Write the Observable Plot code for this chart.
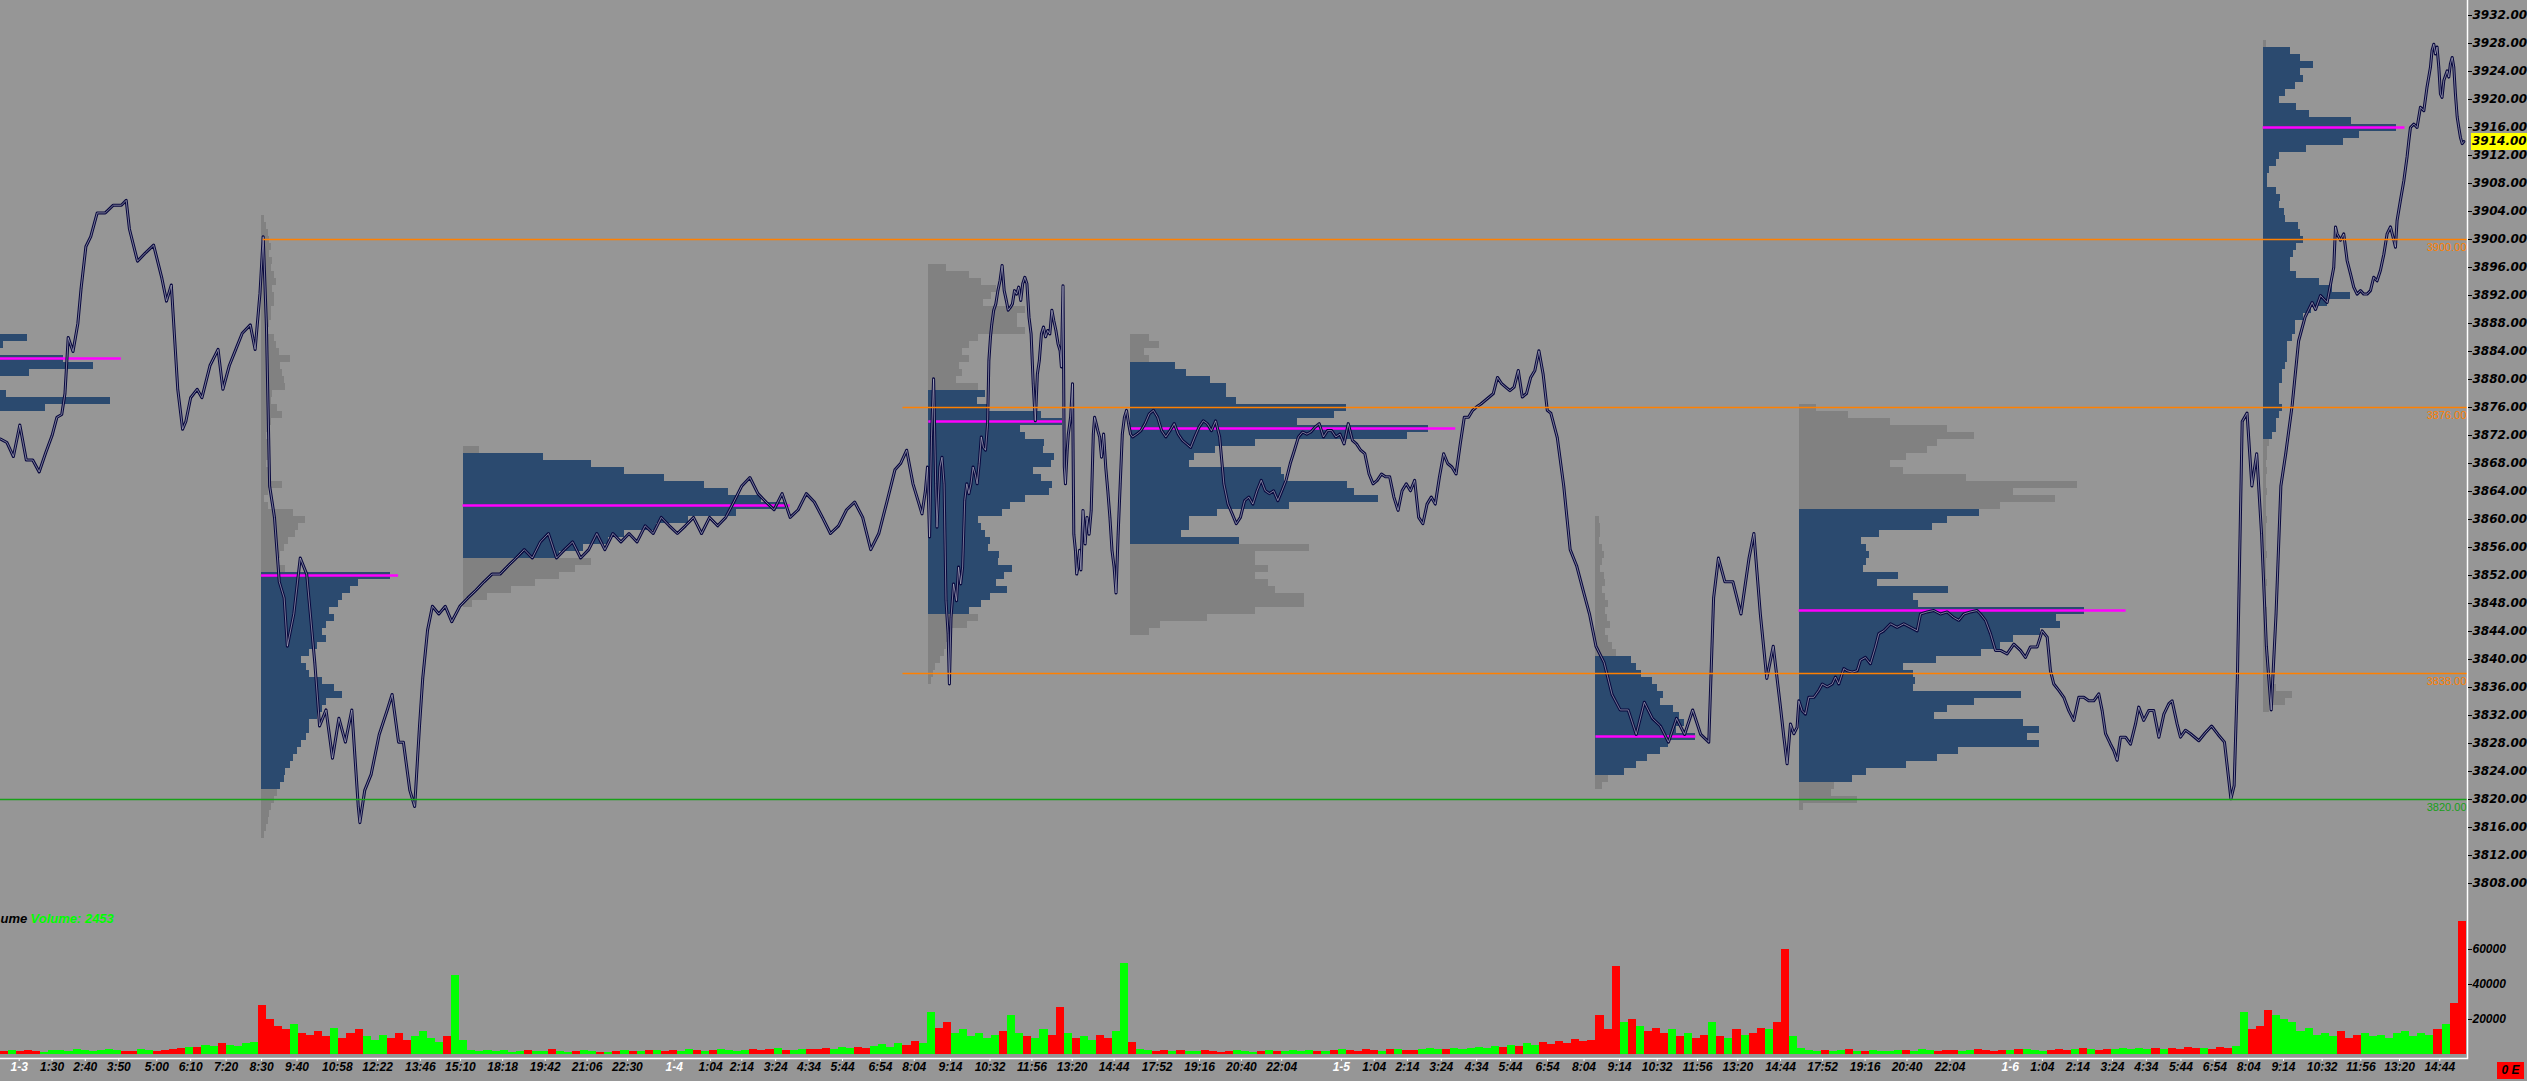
<!DOCTYPE html>
<html>
<head>
<meta charset="utf-8">
<script src="https://cdn.jsdelivr.net/npm/d3@7"></script>
<script src="https://cdn.jsdelivr.net/npm/@observablehq/plot@0.6"></script>
<style>
  html, body { margin:0; padding:0; background:#969696; overflow:hidden; }
  #chart { position:relative; width:2527px; height:1081px; background:#969696; overflow:hidden; }
  #chart svg { position:absolute; left:0; overflow:visible; max-width:none; }
  #price g[aria-label="y-axis tick label"] { font-family:'DejaVu Sans', Verdana, sans-serif; font-size:12px; font-weight:bold; font-style:italic; }
  #volume g[aria-label="y-axis tick label"] { font-family:'Liberation Sans', Arial, sans-serif; font-size:12px; font-weight:bold; font-style:italic; }
  #flag { position:absolute; left:2497px; top:1062px; width:27px; height:17px; background:#ff0000;
          color:#000; font:italic bold 12px "Liberation Sans", Arial, sans-serif; text-align:center; line-height:17px; }
  #lastTag { position:absolute; left:2471px; height:17px; padding:0 1px; background:#ffff00; color:#000;
          font:italic bold 12px 'DejaVu Sans', Verdana, sans-serif; line-height:17px; }
</style>
</head>
<body>
<div id="chart"></div>
<script>
// ---------------- DATA ----------------
// price samples [bar, price]
const price_1_3 = [[0,3871.5],[4,3871],[8,3869],[12,3873.5],[16,3868.5],[20,3868.5],[24,3866.8],[28,3869.5],[32,3872],[35,3874.6],[38,3875],[40,3878],[42,3886],[45,3884],[48,3888],[50,3893],[53,3899],[56,3900.4],[60,3903.8],[65,3903.8],[70,3904.9],[75,3904.9],[78,3905.6],[80,3901.5],[85,3896.9],[90,3898.1],[95,3899.2],[100,3894.6],[103,3891.2],[106,3893.5],[110,3878.6],[113,3872.9],[115,3874],[118,3877.4],[122,3878.6],[125,3877.4],[130,3882],[135,3884.3],[138,3878.6],[142,3882],[146,3884.3],[150,3886.6],[155,3887.8],[158,3884.3],[161,3892.3],[163,3900.4],[165,3887.8],[167,3864.8],[170,3860.3],[173,3851.1],[176,3848.8],[178,3841.9],[182,3846.5],[186,3854.5],[190,3852.2],[195,3839.6],[198,3830.5],[202,3832.8],[206,3825.9],[210,3831.6],[214,3828.2],[218,3832.8],[222,3819],[223,3816.7],[226,3821.3],[230,3823.6],[235,3829.3],[240,3832.8],[243,3835],[247,3828.2],[250,3828.2],[254,3821.3],[257,3819],[260,3830.5],[262,3837.3],[265,3844.2],[268,3847.6],[272,3846.5],[276,3847.6],[280,3845.4],[285,3847.6]];
const price_1_4_eth = [[290,3848.8],[295,3849.9],[300,3851.1],[305,3852.2],[310,3852.2],[315,3853.4],[320,3854.5],[325,3855.7],[330,3854.5],[335,3856.8],[340,3858],[345,3854.5],[350,3855.7],[355,3856.8],[360,3854.5],[365,3855.7],[370,3858],[375,3855.7],[380,3858],[385,3856.8],[390,3858],[395,3856.8],[400,3859.1],[405,3858],[410,3860.3],[415,3859.1],[420,3858],[425,3859.1],[430,3860.3],[435,3858],[440,3860.3],[445,3859.1],[450,3860.3],[455,3862.5],[460,3864.8],[465,3866],[470,3863.7],[475,3862.5],[480,3861.4],[485,3863.7],[490,3860.3],[495,3861.4],[500,3863.7],[505,3862.5],[510,3860.3],[515,3858],[520,3859.1],[525,3861.4],[530,3862.5],[535,3860.3],[540,3855.7],[545,3858],[550,3862.5],[555,3867.1]];
const price_1_4_rth = [[558.5,3868],[562.3,3869.9],[566.2,3865.1],[570,3862.2],[571.8,3860.8],[573.9,3864.1],[575.2,3867.5],[576.5,3857.5],[577.7,3871.8],[579,3880.1],[580.3,3865.1],[581.1,3858.9],[582.9,3867.5],[584.2,3868.9],[585.5,3865.1],[586.7,3848.4],[588,3843.7],[588.8,3836.5],[589.8,3846],[591.4,3850.8],[593.2,3848.4],[594.5,3853.2],[595.8,3850.8],[597,3853.2],[598.3,3862.7],[599.6,3865.1],[600.9,3863.7],[602.2,3865.1],[603.5,3867.5],[604.8,3866.5],[606,3865.1],[607.3,3868],[608.6,3871.8],[609.9,3870.3],[611.2,3869.9],[612.5,3873.7],[613.3,3882.7],[614.3,3886.1],[615.1,3887.9],[616.3,3889.9],[617.6,3890.8],[618.9,3892.7],[620.2,3894.1],[621.5,3896.3],[622.8,3892.7],[624.1,3891.3],[625.3,3889.9],[626.6,3890.3],[627.9,3890.8],[629.2,3892.7],[630.5,3892.2],[631.8,3893.2],[633.1,3891.3],[634.3,3893.7],[635.6,3894.6],[636.9,3893.7],[638.2,3888.9],[639.5,3886.5],[640.8,3879.4],[642.1,3874.1],[643.4,3880.8],[644.6,3882.7],[645.9,3886.5],[647.2,3887.5],[648.5,3886.1],[649.8,3887],[651.1,3886.5],[652.4,3889.9],[653.6,3888.4],[654.9,3887],[656.2,3885.1],[657.5,3884.1],[658.3,3881.8],[659.3,3893.4],[660.1,3867.5],[660.8,3865.1],[661.9,3869.9],[662.6,3872.2],[664,3874.6],[665.2,3879.4],[666,3857.9],[667,3855.6],[667.8,3852.2],[668.6,3853.2],[669.6,3855.6],[670.4,3852.8],[671.7,3861.3],[673,3856.5],[674.2,3860.3],[675.5,3857.9],[676.8,3861.3],[678.1,3872.2],[678.9,3874.6],[679.9,3873.7],[680.9,3872.7],[682,3871.8],[683.2,3868.9],[684.5,3872.2],[685.8,3867.5],[687.1,3864.1],[688.4,3860.3],[689.7,3855.6],[691,3853.2],[692.2,3849.5],[693.5,3857.9],[694.8,3865.1],[696.1,3872.2],[697.4,3874.6],[698.7,3875.6],[700,3873.7],[701.2,3872.2],[702.5,3871.8]];
const price_1_5_eth = [[705.1,3872.2],[707.7,3872.7],[710.2,3873.7],[712.8,3875.1],[715.4,3875.6],[718,3874.6],[720.5,3872.7],[723.1,3871.8],[725.7,3872.7],[728.3,3873.7],[730.8,3872.2],[733.4,3871.3],[736,3870.8],[738.5,3870.3],[741.1,3871.8],[743.7,3873.2],[746.3,3874.1],[748.8,3873.7],[751.4,3872.7],[754,3874.1],[756.5,3871.8],[759.1,3865.1],[761.7,3862.2],[764.3,3860.8],[766.8,3859.4],[769.4,3860.3],[772,3862.7],[774.6,3863.2],[777.1,3862.2],[779.7,3864.1],[782.3,3865.6],[784.8,3864.1],[787.4,3863.7],[790,3864.1],[792.6,3862.7],[795.1,3864.1],[797.7,3865.6],[800.3,3868],[802.9,3869.9],[805.4,3871.8],[808,3872.5],[810.6,3872.2],[813.1,3872.5],[815.7,3873.2],[818.3,3873.7],[820.9,3871.8],[823.4,3872.7],[826,3872.7],[828.6,3871.8],[831.2,3872.2],[833.7,3870.8],[836.3,3873.7],[838.9,3871.3],[841.4,3870.8],[844,3869.9],[846.6,3869.4],[849.2,3866.5],[851.7,3865.1],[854.3,3865.6],[856.9,3866.5],[859.4,3866.1],[862,3866.1],[864.6,3863.2],[867.2,3861.3],[869.7,3864.1],[872.3,3865.1],[874.9,3864.1],[877.5,3865.6],[880,3860.3],[882.6,3859.4],[885.2,3862.2],[887.8,3863.2],[890.3,3862.2],[892.9,3866.1],[895.5,3869.4],[898,3868],[900.6,3867.5],[903.2,3866.5],[905.8,3870.8],[908.3,3874.6],[910.9,3874.6],[913.5,3875.6],[916,3876.1],[918.6,3876.5],[921.2,3877],[923.8,3877.5],[926.3,3878],[928.9,3880.3],[931.5,3879.4],[934,3878.9],[936.6,3878.4],[939.2,3878.9],[941.8,3881.3],[944.3,3877.5],[946.9,3878],[949.5,3880.3],[952.1,3881.3],[954.6,3884.1],[957.2,3880.8],[959.8,3875.6],[962,3875.2],[966,3871.7],[970,3864.8],[974,3855.7],[978,3853.4],[982,3849.9],[986,3846.5]];
const price_1_5_rth = [[990,3841.9],[995,3839.6],[1000,3835],[1005,3832.8],[1010,3832.8],[1015,3829.3],[1020,3833.9],[1025,3831.6],[1030,3830.5],[1035,3828.2],[1040,3831.6],[1045,3829.3],[1050,3832.8],[1055,3829.3],[1060,3828.2],[1063,3848.8],[1066,3854.5],[1070,3851.1],[1075,3851.1],[1080,3846.5],[1085,3854.5],[1088,3858],[1092,3846.5],[1096,3837.3],[1100,3841.9],[1104.5,3833.2],[1106.6,3828.9],[1108.6,3825.1],[1110.7,3830.8],[1112.8,3829.4],[1114.8,3830.3]];
const price_1_6_eth = [[1115.9,3834.1],[1117.9,3832.7],[1120,3832.2],[1122.1,3834.6],[1125.2,3834.6],[1128.3,3835.6],[1130.4,3836.5],[1133.5,3836.1],[1136.6,3836.5],[1138.6,3837.5],[1140.7,3836.5],[1143.8,3838.7],[1145.9,3838.4],[1149,3838.2],[1152.1,3838.4],[1154.1,3839.9],[1157.2,3840.3],[1160.3,3839.4],[1163.4,3841.8],[1165.5,3843.7],[1168.6,3844.1],[1172.8,3845.1],[1176.9,3844.6],[1181,3845.1],[1185.2,3844.6],[1189.3,3844.1],[1191.4,3846.5],[1195.5,3846.8],[1199.6,3847],[1203.8,3846.5],[1207.9,3846.8],[1212,3846],[1215.2,3845.6],[1218.3,3846.5],[1222.4,3846.8],[1226.5,3847],[1228.6,3846.5],[1231.7,3845.6],[1234.8,3843.7],[1237.9,3841.3],[1241,3841.3],[1245.1,3840.8],[1249.3,3842.2],[1253.4,3841.3],[1256.5,3840.3],[1259.6,3841.8],[1263.8,3841.8],[1266.9,3844.1],[1270,3843.2],[1272,3838.4],[1274.1,3836.5],[1277.2,3835.6],[1280.3,3834.6],[1283.4,3832.7],[1286.5,3831.3],[1289.6,3834.6],[1292.7,3834.6],[1295.8,3834.1],[1298.9,3834.1],[1302,3835.1],[1304.1,3832.7],[1306.2,3829.4],[1309.3,3827.9],[1311.3,3827],[1313.4,3825.6],[1315.5,3828.9],[1318.6,3828.9],[1321.7,3827.9],[1324.8,3830.8],[1326.8,3833.2],[1329.9,3831.3],[1333,3832.7],[1336.1,3832.7],[1339.3,3828.9],[1342.4,3832.2],[1345.5,3833.7],[1347.5,3834.1],[1350.6,3830.8],[1352.7,3828.9],[1355.8,3829.9],[1358.9,3829.4],[1364.1,3828.4],[1368,3829.5],[1372,3830.5],[1376,3829.3],[1380,3828.2],[1384,3820.1],[1386,3822]];
const price_1_6_rth = [[1388,3837.3],[1391,3874],[1394,3875.2],[1397,3864.8],[1400,3869.4],[1403,3858],[1406,3841.9],[1409,3832.8],[1412,3846.5],[1415,3864.8],[1418,3869.4],[1422,3876.3],[1426,3885.5],[1430,3888.9],[1434.4,3891],[1436.5,3890],[1439.6,3892],[1443.7,3891],[1447.8,3896],[1448.9,3901.8],[1449.9,3900.8],[1452,3899.9],[1454,3900.8],[1456.1,3897],[1458.2,3895.1],[1460.2,3893.2],[1462.3,3892.2],[1464.4,3892.7],[1466.4,3892.2],[1468.5,3892.2],[1470.6,3892.7],[1472.6,3894.6],[1474.7,3894.1],[1476.8,3895.6],[1478.9,3897.9],[1480.9,3900.8],[1483,3901.8],[1485.1,3899.9],[1486.1,3898.9],[1487.1,3902.7],[1489.2,3905.6],[1491.3,3908.4],[1493.3,3911.8],[1494.4,3914.1],[1495.4,3916],[1497.5,3916.5],[1499.5,3916],[1501.6,3918.9],[1503.7,3918.4],[1505.7,3921.8],[1507.8,3924.6],[1508.8,3927],[1509.9,3927.9],[1510.9,3926.5],[1511.9,3927.5],[1513,3924.6],[1514,3920.8],[1515,3920.3],[1516.1,3922.7],[1518.2,3924.1],[1519.2,3923.2],[1520.2,3925.1],[1521.3,3926],[1522.3,3924.6],[1523.3,3920.8],[1524.4,3917.5],[1525.4,3916],[1526.4,3914.6],[1527.5,3913.7],[1528.5,3914]];
const lastPrice = 3914;

// price axis ticks
const priceTicks = [3808,3812,3816,3820,3824,3828,3832,3836,3840,3844,3848,3852,3856,3860,3864,3868,3872,3876,3880,3884,3888,3892,3896,3900,3904,3908,3912,3916,3920,3924,3928,3932];

// horizontal levels
const levelPrices = [3900, 3876, 3838, 3820];
const levelFromBar = [163, 560, 560, 0];
const levelColors = ["#ff8000", "#ff8000", "#ff8000", "#18a018"];

// volume profiles: volume at price (1 pt rows, listed from top price downward)
const profileStartBar = [0, 162, 287, 576, 701, 990, 1116, 1404];
const profileTopPrice = [3886, 3903, 3870, 3896, 3886, 3860, 3876, 3928];
const profileVAHigh   = [3886, 3852, 3869, 3878, 3882, 3840, 3861, 3927];
const profileVALow    = [3876, 3822, 3855, 3847, 3857, 3824, 3823, 3872];
const profilePOC      = [3883, 3852, 3862, 3874, 3873, 3829, 3847, 3916];
const profilePOCEnd   = [75, 247, 490, 659, 903, 1052, 1319, 1492];
const prof_1_2_eth = [17,2,0,39,58,18,0,0,4,68,28];
const prof_1_3_rth = [2,3,4,5,6,5,7,6,8,9,7,8,8,6,6,5,4,8,9,11,18,12,13,14,15,7,6,10,13,6,4,3,4,5,4,3,4,5,13,4,2,4,20,27,23,21,17,14,12,10,15,
  80,60,55,50,48,42,45,40,38,40,35,30,25,28,30,38,45,50,40,38,35,30,30,28,25,22,20,18,15,14,12,10,8,6,5,4,3,2];
const prof_1_3_eth = [10,50,80,100,125,150,165,185,200,170,140,120,100,90,75,60,80,70,60,45,30,15,6];
const prof_1_4_rth = [11,25,33,42,39,34,60,55,55,60,31,25,21,25,19,21,17,31,
  35,30,37,70,83,57,60,72,71,78,76,65,70,77,75,60,51,46,31,33,35,38,37,44,43,52,47,42,49,38,33,25,
  31,24,13,12,11,10,7,4,3,2];
const prof_1_4_eth = [12,18,9,12,28,35,50,60,60,66,134,127,104,185,172,78,53,40,37,94,96,135,139,154,99,54,37,37,32,68,
  111,78,78,86,78,86,90,108,108,78,48,19,12];
const prof_1_5_rth = [2,3,3,2,4,5,4,3,5,6,4,6,8,6,7,9,6,8,10,13,22,25,28,35,38,42,40,48,52,55,50,62,45,40,32,25,18,8,4];
const prof_1_5_eth = [11,31,57,92,109,86,80,67,57,65,104,173,133,159,125,
  112,92,83,50,39,42,44,42,40,62,49,93,71,74,177,160,162,150,133,125,113,85,65,71,72,71,138,109,92,84,139,149,142,149,99,86,67,42,33,
  22,20,36,3];
const prof_1_6_rth = [2,17,23,31,23,25,20,14,10,21,29,55,83,60,50,27,10,8,4,3,3,8,11,10,13,14,22,23,25,21,19,17,17,21,35,43,54,40,30,25,20,20,18,15,15,15,14,12,12,10,10,10,12,10,8,8,6,
  4,3,3,2,3,2,2,3,2,2,2,3,2,2,2,2,3,2,2,2,3,2,2,2,3,3,2,3,2,3,3,4,3,4,5,8,18,14,4];
const profileVolumes = [prof_1_2_eth, prof_1_3_rth, prof_1_3_eth, prof_1_4_rth, prof_1_4_eth, prof_1_5_rth, prof_1_5_eth, prof_1_6_rth];

// volume (thousands) per 5-bar block, by segment
const volSegStart = [0, 160, 290, 575, 705, 985, 1115, 1390];
const vol_1_3_eth = [1.5,2.0,1.8,2.2,1.5,1.2,2.0,2.5,1.8,3.0,2.2,1.6,2.4,2.8,2.0,1.5,1.8,2.6,2.2,1.9,2.5,3.0,3.5,4.2,3.8,5.0,4.5,6.0,5.2,4.8,6.5,7.0];
const vol_1_3_rth = [28,20,16,14,17,12,11,13,10,15,9,12,14,10,8,11,9,12,8,10,13,9,7,10,45,8];
const vol_1_4_eth = [2.5,1.8,2.2,1.6,2.0,1.4,1.8,2.4,1.5,1.9,2.6,1.7,1.3,1.6,2.1,1.8,1.4,1.2,1.6,2.0,1.5,1.8,2.4,2.0,1.6,2.2,1.9,2.8,2.1,1.7,2.5,3.0,2.2,1.8,2.4,2.9,2.1,2.6,3.2,2.4,2.0,2.8,3.1,2.6,3.4,2.9,3.8,3.2,4.1,3.6,4.8,5.5,4.2,6.1,5.4,7.2,6.5];
const vol_1_4_rth = [24,15,18,12,14,10,12,9,11,13,22,12,10,9,14,11,27,12,9,10,8,11,9,13,52,7];
const vol_1_5_eth = [3.0,2.2,1.8,2.4,1.6,2.0,1.5,1.9,2.3,1.7,1.4,1.8,2.2,1.6,1.3,1.9,2.5,1.8,1.5,2.1,1.7,2.4,1.9,1.6,2.2,2.8,2.0,1.8,2.6,2.3,1.9,2.7,3.1,2.4,2.0,2.9,3.4,2.6,3.0,3.6,2.8,3.3,4.0,3.5,4.4,3.8,5.2,4.6,6.0,5.1,6.8,5.9,7.5,6.4,8.6,7.2];
const vol_1_5_rth = [8,22,14,50,18,20,16,13,15,12,14,10,12,9,11,18,10,9,14,11,12,15,14,18,60,10];
const vol_1_6_eth = [3.5,2.4,1.8,2.2,1.6,2.0,2.6,1.8,1.5,2.3,1.9,1.6,2.4,2.1,1.7,2.8,2.2,1.9,2.5,2.0,1.6,2.3,2.7,2.1,1.8,2.4,2.0,2.6,3.0,2.2,1.8,2.5,2.9,2.3,2.7,3.2,2.6,2.4,3.0,2.8,3.4,2.9,3.6,3.1,3.2,2.7,3.5,3.0,3.8,3.3,3.6,3.1,4.0,3.4,4.5];
const vol_1_6_rth = [24,14,16,25,22,20,18,13,15,11,12,10,13,9,11,12,10,11,9,12,13,10,12,11,14,17,29,76];
const volSegments = [vol_1_3_eth, vol_1_3_rth, vol_1_4_eth, vol_1_4_rth, vol_1_5_eth, vol_1_5_rth, vol_1_6_eth, vol_1_6_rth];
const volumeTicks = [20000, 40000, 60000];
const volumeTitleVisible = "ume";          // "Volume" study name, cut at the left edge as in the reference
const volumeReadout = "Volume: 2453";

// time axis (bar position, label)
const timeTickBars = [11.6,32,52.6,73.4,97,118,140,162,184,209,234,260.5,285.4,311.6,338,364,389,
  418,440.6,460,481,501.7,522.5,546,567,589.5,614,640,665,691,717.7,744,770,795,
  832,852.4,873,894,916,937,960,982.6,1004.6,1028,1053,1078,1104.5,1130.6,1157,1183,1209.7,
  1247,1267,1289,1310.5,1331.5,1353,1374,1395,1416.6,1440.6,1464.6,1488.6,1513.6];
const timeTickLabels = ["1-3","1:30","2:40","3:50","5:00","6:10","7:20","8:30","9:40","10:58","12:22","13:46","15:10","18:18","19:42","21:06","22:30",
  "1-4","1:04","2:14","3:24","4:34","5:44","6:54","8:04","9:14","10:32","11:56","13:20","14:44","17:52","19:16","20:40","22:04",
  "1-5","1:04","2:14","3:24","4:34","5:44","6:54","8:04","9:14","10:32","11:56","13:20","14:44","17:52","19:16","20:40","22:04",
  "1-6","1:04","2:14","3:24","4:34","5:44","6:54","8:04","9:14","10:32","11:56","13:20","14:44"];

// ---------------- BUILD ----------------
const W = 2527, PRICE_H = 895, VOL_H = 186;
const X_MAX = 1530.8;
const AXIS_FONT = "'DejaVu Sans', Verdana, sans-serif";
const LBL_FONT = "'Liberation Sans', Arial, sans-serif";

const priceRows = [price_1_3, price_1_4_eth, price_1_4_rth, price_1_5_eth, price_1_5_rth, price_1_6_eth, price_1_6_rth]
  .flat().map(([bar, price]) => ({bar, price}));
const bis = d3.bisector(d => d.bar).left;
function priceAt(b) {
  const i = Math.min(Math.max(bis(priceRows, b), 1), priceRows.length - 1);
  const a = priceRows[i - 1], c = priceRows[i];
  const t = Math.max(0, Math.min(1, (b - a.bar) / (c.bar - a.bar)));
  return a.price + t * (c.price - a.price);
}

const profileRows = [];
const pocRows = [];
profileVolumes.forEach((vols, k) => {
  vols.forEach((v, j) => {
    const p = profileTopPrice[k] - j;
    if (v > 0) profileRows.push({x1: profileStartBar[k], x2: profileStartBar[k] + v, y1: p - 0.5, y2: p + 0.5,
      va: p <= profileVAHigh[k] && p >= profileVALow[k]});
  });
  pocRows.push({price: profilePOC[k], x1: profileStartBar[k], x2: profilePOCEnd[k]});
});

const levelRows = levelPrices.map((p, i) => ({price: p, from: levelFromBar[i], color: levelColors[i]}));

const volRows = [];
volSegments.forEach((arr, s) => arr.forEach((v, j) => {
  const b0 = volSegStart[s] + 5 * j, b1 = b0 + 5;
  volRows.push({x1: b0, x2: Math.min(b1, X_MAX), vol: v * 1000, up: priceAt(b1) >= priceAt(b0)});
}));

const tickRows = timeTickBars.map((b, i) => ({bar: b, label: timeTickLabels[i], date: timeTickLabels[i].includes("-")}));

const priceChart = Plot.plot({
  width: W, height: PRICE_H,
  marginTop: 0, marginBottom: 0, marginLeft: 0, marginRight: 60,
  style: {background: "transparent", overflow: "visible", fontFamily: LBL_FONT},
  x: {domain: [0, X_MAX], axis: null},
  y: {domain: [3806.29, 3934.143], axis: null},
  marks: [
    Plot.rect(profileRows, {x1: "x1", x2: "x2", y1: "y1", y2: "y2", fill: d => d.va ? "#2b4a6f" : "#818181", shapeRendering: "crispEdges"}),
    Plot.ruleY(pocRows, {y: "price", x1: "x1", x2: "x2", stroke: "#ff00ff", strokeWidth: 2.5}),
    Plot.line(priceRows, {x: "bar", y: "price", stroke: "#08083e", strokeWidth: 3}),
    Plot.line(priceRows, {x: "bar", y: "price", stroke: "#c8c8d4", strokeWidth: 0.6}),
    Plot.ruleY(levelRows, {y: "price", x1: "from", x2: X_MAX, stroke: "color", strokeWidth: 1.5}),
    Plot.text(levelRows, {x: X_MAX, y: "price", text: d => d.price.toFixed(2), fill: "color", textAnchor: "end", dx: -1, dy: 8, fontSize: 11, fontFamily: LBL_FONT}),
    Plot.ruleX([X_MAX], {stroke: "white", strokeWidth: 1.5}),
    Plot.axisY({anchor: "right", ticks: priceTicks, tickSize: 4, tickPadding: 1, tickFormat: d => d.toFixed(2), color: "black", label: null,
      fontSize: 12, fontWeight: "bold", fontStyle: "italic", fontFamily: AXIS_FONT})
  ]
});
priceChart.id = "price";

const volChart = Plot.plot({
  width: W, height: VOL_H,
  marginTop: 0, marginBottom: 23, marginLeft: 0, marginRight: 60,
  style: {background: "transparent", overflow: "visible", fontFamily: LBL_FONT},
  x: {domain: [0, X_MAX], axis: null},
  y: {domain: [-2286, 90857], axis: null},
  marks: [
    Plot.rect(volRows, {x1: "x1", x2: "x2", y1: 0, y2: "vol", fill: d => d.up ? "#00ff00" : "#ff0000", shapeRendering: "crispEdges"}),
    Plot.ruleX([X_MAX], {stroke: "white", strokeWidth: 1.5}),
    Plot.frame({anchor: "bottom", stroke: "white", strokeWidth: 1.5}),
    Plot.axisY({anchor: "right", ticks: volumeTicks, tickSize: 4, tickPadding: 1, tickFormat: d => String(d), color: "black", label: null,
      fontSize: 12, fontWeight: "bold", fontStyle: "italic", fontFamily: LBL_FONT}),
    Plot.axisX({anchor: "bottom", ticks: timeTickBars, tickSize: 3, tickFormat: () => "", color: "white", label: null}),
    Plot.text(tickRows.filter(d => !d.date), {x: "bar", text: "label", frameAnchor: "bottom", dy: 12, fill: "black",
      fontSize: 12, fontWeight: "bold", fontStyle: "italic", fontFamily: LBL_FONT}),
    Plot.text(tickRows.filter(d => d.date), {x: "bar", text: "label", frameAnchor: "bottom", dy: 12, fill: "white",
      fontSize: 12, fontWeight: "bold", fontStyle: "italic", fontFamily: LBL_FONT, ariaLabel: "date-label"}),
    Plot.text([volumeTitleVisible], {frameAnchor: "top-left", dx: 0, dy: 18, textAnchor: "start", fill: "black",
      fontSize: 13, fontWeight: "bold", fontStyle: "italic", fontFamily: LBL_FONT}),
    Plot.text([volumeReadout], {frameAnchor: "top-left", dx: 30, dy: 18, textAnchor: "start", fill: "#00ff00",
      fontSize: 13, fontWeight: "bold", fontStyle: "italic", fontFamily: LBL_FONT})
  ]
});
volChart.id = "volume";

const root = document.getElementById("chart");
priceChart.style.top = "0px";
volChart.style.top = PRICE_H + "px";
root.appendChild(priceChart);
root.appendChild(volChart);

// last price tag positioned through the price scale
const yLast = priceChart.scale("y").apply(lastPrice);
const tag = document.createElement("div");
tag.id = "lastTag";
tag.textContent = lastPrice.toFixed(2);
tag.style.top = (yLast - 8.5) + "px";
root.appendChild(tag);

const flag = document.createElement("div");
flag.id = "flag"; flag.textContent = "0 E";
root.appendChild(flag);

function addBoxes(svg, label, fill, padX, padY) {
  svg.querySelectorAll(`[aria-label="${label}"] text`).forEach(t => {
    const b = t.getBBox();
    const r = document.createElementNS("http://www.w3.org/2000/svg", "rect");
    r.setAttribute("x", b.x - padX);
    r.setAttribute("y", b.y - padY);
    r.setAttribute("width", b.width + 2 * padX);
    r.setAttribute("height", b.height + 2 * padY);
    r.setAttribute("fill", fill);
    const tr = t.getAttribute("transform");
    if (tr) r.setAttribute("transform", tr);
    t.parentNode.insertBefore(r, t);
  });
}
addBoxes(volChart, "date-label", "#000000", 3, 0);
</script>
</body>
</html>
